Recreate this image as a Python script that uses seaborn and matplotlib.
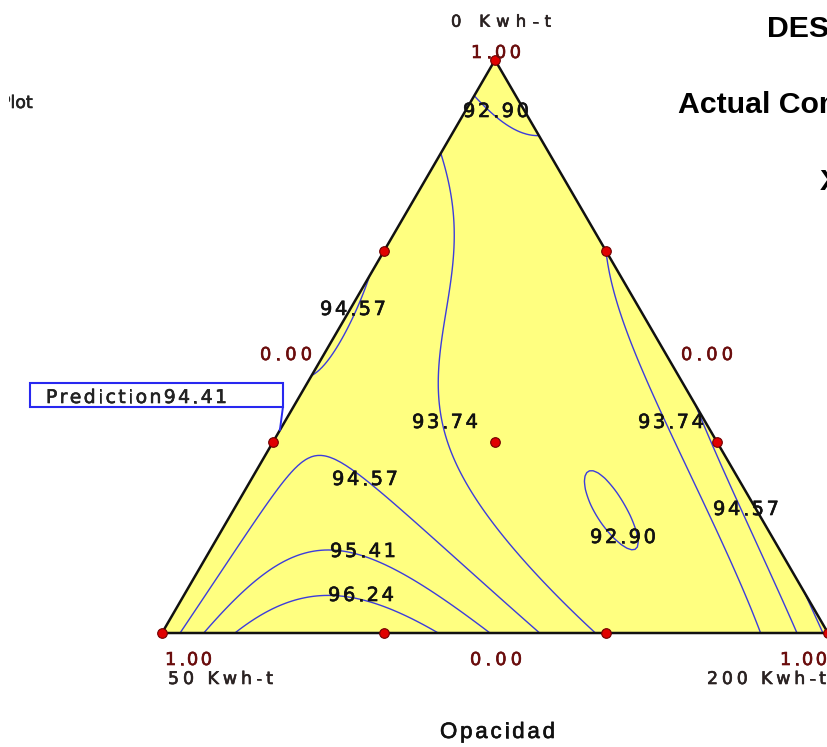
import numpy as np
import pandas as pd
import matplotlib
matplotlib.use("Agg")
import matplotlib.pyplot as plt
import matplotlib.tri as mtri
import matplotlib.patheffects as pe
from matplotlib.patches import Polygon, Rectangle
from matplotlib.transforms import Bbox
from matplotlib.font_manager import FontProperties, findfont, get_font
import seaborn as sns

# Mixture design: fractions of each energy component and measured opacity
comp_a = [1, 0, 0, 2/3, 1/3, 2/3, 1/3, 0, 0, 1/3]      # 0 Kwh-t
comp_b = [0, 1, 0, 1/3, 2/3, 0, 0, 2/3, 1/3, 1/3]      # 50 Kwh-t
comp_c = [0, 0, 1, 0, 0, 1/3, 2/3, 1/3, 2/3, 1/3]      # 200 Kwh-t
opacidad = [92.2, 93.8, 95.6, 94.49, 94.38, 93.74, 94.74, 96.9, 93.61, 93.325]

contour_levels = [92.90, 93.74, 94.57, 95.41, 96.24]
prediction_value = 94.41
prediction_blend = (0.354, 0.646, 0.0)

vertex_names = ["0 Kwh-t", "50 Kwh-t", "200 Kwh-t"]
response_name = "Opacidad"

# ---------------------------------------------------------------- layout
W, H, DPI = 828, 747, 100
TOP, LEFT, RIGHT = (495.0, 60.0), (162.0, 633.0), (828.0, 633.0)


def to_xy(a, b, c):
    a, b, c = np.asarray(a, float), np.asarray(b, float), np.asarray(c, float)
    x = a * TOP[0] + b * LEFT[0] + c * RIGHT[0]
    y = a * TOP[1] + b * LEFT[1] + c * RIGHT[1]
    return x, y


def cubic_terms(a, b, c):
    a, b, c = np.asarray(a, float), np.asarray(b, float), np.asarray(c, float)
    return np.column_stack([a, b, c, a * b, a * c, b * c,
                            a * b * (a - b), a * c * (a - c), b * c * (b - c),
                            a * b * c])


# full cubic Scheffe model fitted to the design points
coef, *_ = np.linalg.lstsq(cubic_terms(comp_a, comp_b, comp_c),
                           np.asarray(opacidad), rcond=None)

n = 180
ga, gb = [], []
for i in range(n + 1):
    for j in range(n + 1 - i):
        ga.append(i / n)
        gb.append(j / n)
ga, gb = np.array(ga), np.array(gb)
gc = np.clip(1 - ga - gb, 0, 1)
gz = cubic_terms(ga, gb, gc) @ coef
gx, gy = to_xy(ga, gb, gc)
tri = mtri.Triangulation(gx, gy)


def spaced_text(ax, x, y, s, size, width=None, family="DejaVu Sans",
                weight="normal", color="black", heavy=0.45, **kw):
    """Write s one glyph at a time so that it spans `width` pixels."""
    fp = FontProperties(family=family, size=size, weight=weight)
    font = get_font(findfont(fp))
    font.set_size(size, DPI)
    adv = [font.load_char(ord(ch)).linearHoriAdvance / 65536.0 for ch in s]
    extra = 0.0
    if width is not None and len(s) > 1:
        extra = (width - sum(adv)) / (len(s) - 1)
    effects = [pe.withStroke(linewidth=heavy, foreground=color)]
    cx = x
    for ch, a in zip(s, adv):
        ax.text(cx, y, ch, fontproperties=fp, color=color,
                ha="left", va="baseline", path_effects=effects, **kw)
        cx += a + extra


sns.set_theme(style="white")
plt.rcParams["font.family"] = ["DejaVu Sans"]

fig = plt.figure(figsize=(W / DPI, H / DPI), dpi=DPI)
ax = fig.add_axes([0, 0, 1, 1])
ax.set_xlim(0, W)
ax.set_ylim(H, 0)

# simplex
ax.add_patch(Polygon([TOP, LEFT, RIGHT], closed=True, facecolor="#ffff80",
                     edgecolor="none", zorder=1))
ax.tricontour(tri, gz, levels=contour_levels, colors="#3c3cdc",
              linewidths=1.0, zorder=2)
ax.add_patch(Polygon([TOP, LEFT, RIGHT], closed=True, facecolor="none",
                     edgecolor="#111111", linewidth=1.8, zorder=3,
                     clip_on=False))

# design points
px, py = to_xy(comp_a, comp_b, comp_c)
pts = pd.DataFrame({"x": px, "y": py, "opacidad": opacidad})
sns.scatterplot(data=pts, x="x", y="y", s=48, color="#e00000",
                edgecolor="#700000", linewidth=0.8, ax=ax, zorder=5,
                clip_on=False, legend=False)

# contour labels
label_spots = [(0, 463, 117), (2, 320, 315), (1, 412, 428), (2, 332, 485),
               (3, 330, 557), (4, 328, 601), (1, 638, 428), (0, 590, 543),
               (2, 713, 515)]
for k, lx, ly in label_spots:
    spaced_text(ax, lx, ly, f"{contour_levels[k]:.2f}", 14, width=66,
                color="#111111", zorder=6)

# axis tick values and component names
tick_col, name_col = "#6a0c0c", "#2a2222"
spaced_text(ax, 451, 26.7, vertex_names[0], 11.8, width=100, color=name_col)
spaced_text(ax, 471, 58, "1.00", 12.8, width=50, color=tick_col, zorder=6)
spaced_text(ax, 260, 360, "0.00", 12.8, width=52, color=tick_col)
spaced_text(ax, 681, 360, "0.00", 12.8, width=52, color=tick_col)
spaced_text(ax, 165, 665, "1.00", 12.8, width=47, color=tick_col)
spaced_text(ax, 470, 665, "0.00", 12.8, width=52, color=tick_col)
spaced_text(ax, 780, 665, "1.00", 12.8, width=47, color=tick_col)
spaced_text(ax, 168, 684, vertex_names[1], 12.5, width=105, color=name_col)
spaced_text(ax, 707, 684, vertex_names[2], 12.5, width=119, color=name_col)
spaced_text(ax, 440, 738, response_name, 16, width=115,
            family="Liberation Sans", color="#111111")

# prediction flag
fa, fb, fc = prediction_blend
fx, fy = to_xy(fa, fb, fc)
ax.add_patch(Rectangle((30, 383), 253, 23.5, facecolor="white",
                       edgecolor="#2828f0", linewidth=1.5, zorder=7))
ax.plot([283, float(fx)], [406.5, float(fy)], color="#2828f0", lw=1.4,
        zorder=7)
spaced_text(ax, 46, 403, f"Prediction{prediction_value:.2f}", 13.5,
            width=181, color="#222222", zorder=8)

# header texts (panel is wider than the canvas)
hdr = dict(family="Liberation Sans", weight="bold", fontsize=21.8,
           color="black", ha="left", va="baseline")
ax.text(767, 36.7, "DESIGN-EXPERT Plot", **hdr)
ax.text(678, 113, "Actual Components", **hdr)
ax.text(820, 190, "X1 = A: 0 Kwh-t", **hdr)
t = ax.text(0, 108, "Plot", family="DejaVu Sans", fontsize=12.5,
            color="#222222", ha="left", va="baseline",
            path_effects=[pe.withStroke(linewidth=0.45, foreground="#222222")])
t.set_clip_box(Bbox.from_extents(9, 0, 300, H))
t.set_clip_on(True)

ax.set_axis_off()
fig.savefig("out.png", dpi=DPI)
